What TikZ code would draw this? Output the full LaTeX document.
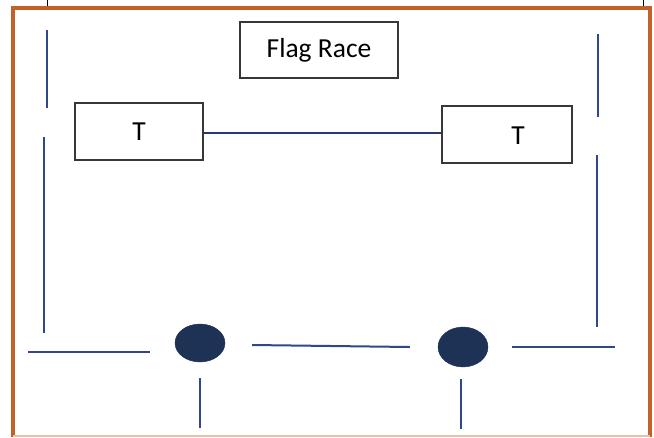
\documentclass[tikz,border=0pt]{standalone}
\usepackage{fontspec}
\setmainfont{Carlito}
\usetikzlibrary{shapes.geometric}
\definecolor{frameorange}{RGB}{194,98,42}
\definecolor{courtblue}{RGB}{48,72,138}
\definecolor{conenavy}{RGB}{30,50,86}
\definecolor{boxgray}{RGB}{55,55,55}
\begin{document}
\begin{tikzpicture}[x=1pt,y=-1pt,
  court/.style={draw=courtblue,line width=2pt},
  bigtext/.style={font=\fontsize{27.5}{30}\selectfont},
  labelbox/.style={draw=boxgray,line width=1.6pt,rectangle,inner sep=0pt,bigtext},
  cone/.style={ellipse,fill=conenavy,draw=conenavy,inner sep=0pt,minimum width=50pt,minimum height=38pt},
  joiner/.style={draw=courtblue!80!black,line width=1.2pt}]
\useasboundingbox (0,0) rectangle (654,437);
\fill[white] (0,0) rectangle (654,437);
% frame
\draw[frameorange,line width=3.5pt] (13,437) -- (13,8) -- (650,8) -- (650,437);
\draw[frameorange!40,line width=2pt] (13,435.5) -- (650,435.5);
\draw[line width=1pt] (47,0) -- (47,6);
\draw[line width=1pt] (643,0) -- (643,6);
% boxes
\node[labelbox,minimum width=158pt,minimum height=56pt] (title) at (319,50) {Flag Race};
\node[labelbox,minimum width=128pt,minimum height=57pt] (tl) at (139,131.5) {T};
\node[labelbox,minimum width=130pt,minimum height=57pt] (tr) at (507,134.5) {};
\node[bigtext,inner sep=0pt] (trlabel) at (518,136) {T};
\draw[joiner] (tl.east |- 0,133) -- (tr.west |- 0,133);
% cones
\node[cone] (c1) at (200,343) {};
\node[cone,minimum height=40pt] (c2) at (463,347) {};
% court lines
\draw[court] (47,30) -- (47,108);
\draw[court] (44,137) -- (44,333);
\draw[court] (598,34) -- (598,117);
\draw[court] (597,155) -- (597,327);
\draw[court] (28,352) -- (150,352);
\path (c1.east) ++(27,2) coordinate (m1) (c2.west) ++(-28,0) coordinate (m2);
\draw[court] (m1) -- (m2);
\draw[court] (512,347) -- (615,347);
\draw[court] (c1.south) ++(0,16) coordinate (t1) -- ++(0,50);
\draw[court] (c2.south) ++(-2,12) coordinate (t2) -- ++(0,50);
\end{tikzpicture}
\end{document}
